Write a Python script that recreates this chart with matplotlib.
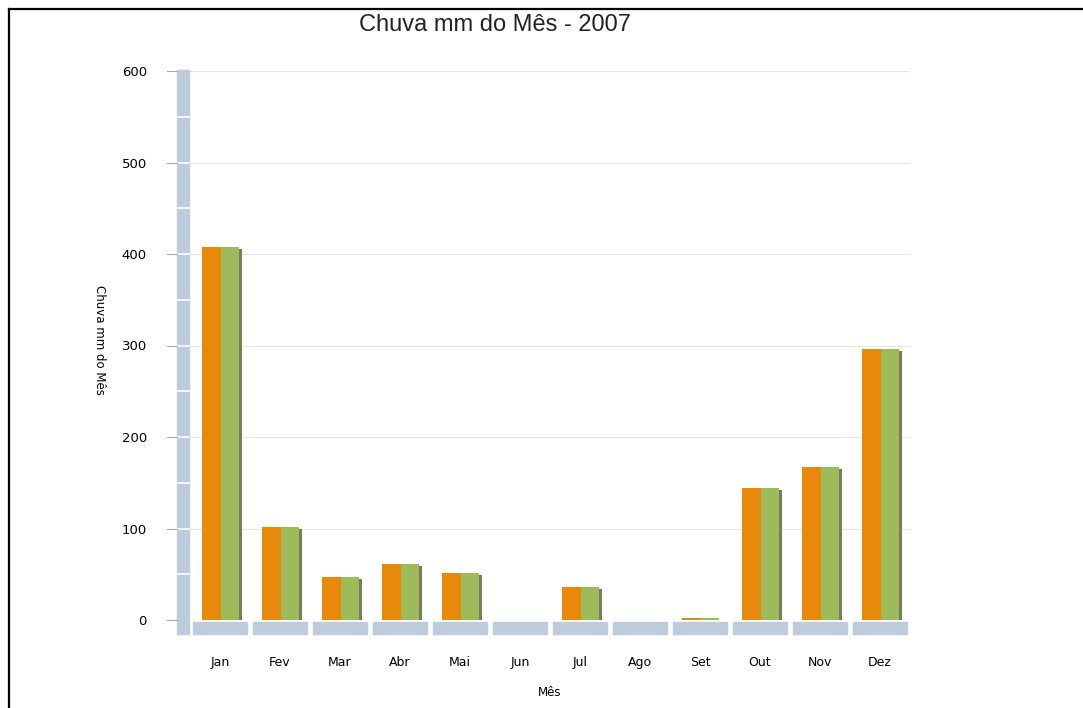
'''
Chuva mm do Mes - 2007
'''
import numpy as np
import matplotlib.pyplot as plt
from matplotlib.lines import Line2D
from matplotlib.patches import Rectangle
import matplotlib.transforms as mtransforms

meses = ['Jan', 'Fev', 'Mar', 'Abr', 'Mai', 'Jun', 'Jul', 'Ago', 'Set', 'Out', 'Nov', 'Dez']
chuva_a = [408, 102, 47, 61, 51, 0, 36, 0, 2, 144, 167, 296]
chuva_b = [408, 102, 47, 61, 51, 0, 36, 0, 2, 144, 167, 296]
yticks = [0, 100, 200, 300, 400, 500, 600]

laranja = '#E8890C'
verde = '#9DBB5A'
parede = '#BCCCDC'

W, H = 1083, 708
fig = plt.figure(figsize=(W / 100, H / 100), dpi=100)
ax = fig.add_axes([190 / W, 1 - 620 / H, 720 / W, 549 / H])

x = np.arange(len(meses))
ax.set_xlim(-0.5, 11.5)
ax.set_ylim(0, 600)

# gridlines
for t in yticks[1:]:
    ax.axhline(t, color='#e6e6e6', lw=0.8, zorder=0)

# bars
ax.bar(x - 0.3, chuva_a, width=0.31, align='edge', color=laranja, zorder=3)
ax.bar(x + 0.01, chuva_b, width=0.31, align='edge', color=verde, zorder=3)
# shadow on right side
sombra = [max(v - 2, 0) for v in chuva_b]
ax.bar(x + 0.32, sombra, width=0.05, align='edge', color='#7d7b5e', zorder=2)

# floor segments
px = 600 / 549.0
for i in x:
    ax.add_patch(Rectangle((i - 0.45, -14 * px), 0.9, 12 * px, color=parede,
                           clip_on=False, zorder=4))

# left wall
trans = mtransforms.blended_transform_factory(fig.transFigure, ax.transData)
wall_x0 = 177 / W
wall_w = 12 / W
ax.add_patch(Rectangle((wall_x0, -1 * px), wall_w, 601 + px, transform=trans,
                       color=parede, clip_on=False, zorder=4))
ax.add_patch(Rectangle((wall_x0, -14 * px), wall_w, 12 * px, transform=trans,
                       color=parede, clip_on=False, zorder=4))
for t in range(50, 600, 50):
    ax.add_line(Line2D([wall_x0, wall_x0 + wall_w], [t, t], transform=trans,
                       color='white', lw=1.2, clip_on=False, zorder=5))
for t in yticks:
    ax.add_line(Line2D([167 / W, 177 / W], [t, t], transform=trans,
                       color='#aaaaaa', lw=0.8, clip_on=False, zorder=5))

for s in ax.spines.values():
    s.set_visible(False)

ax.set_yticks(yticks)
ax.set_yticklabels([str(t) for t in yticks], fontsize=9.5)
ax.tick_params(axis='y', length=0, pad=31)
ax.set_xticks(x)
ax.set_xticklabels(meses, fontsize=9)
ax.tick_params(axis='x', length=0, pad=26)

ax.set_ylabel('Chuva mm do Mês', fontsize=8.5, rotation=-90, labelpad=0)
ax.yaxis.set_label_coords(-97 / 720, 0.51)
ax.set_xlabel('Mês', fontsize=8.5, labelpad=12)

fig.text(495 / W, 1 - 25 / H, 'Chuva mm do Mês - 2007', fontsize=17,
         ha='center', va='center', family='Liberation Sans', color='#222222')

# frame border (top and left)
fig.add_artist(Line2D([9 / W, 1], [1 - 9 / H, 1 - 9 / H], transform=fig.transFigure,
                      color='black', lw=1.6))
fig.add_artist(Line2D([9 / W, 9 / W], [0, 1 - 9 / H], transform=fig.transFigure,
                      color='black', lw=1.6))

fig.savefig('out.png', dpi=100)
